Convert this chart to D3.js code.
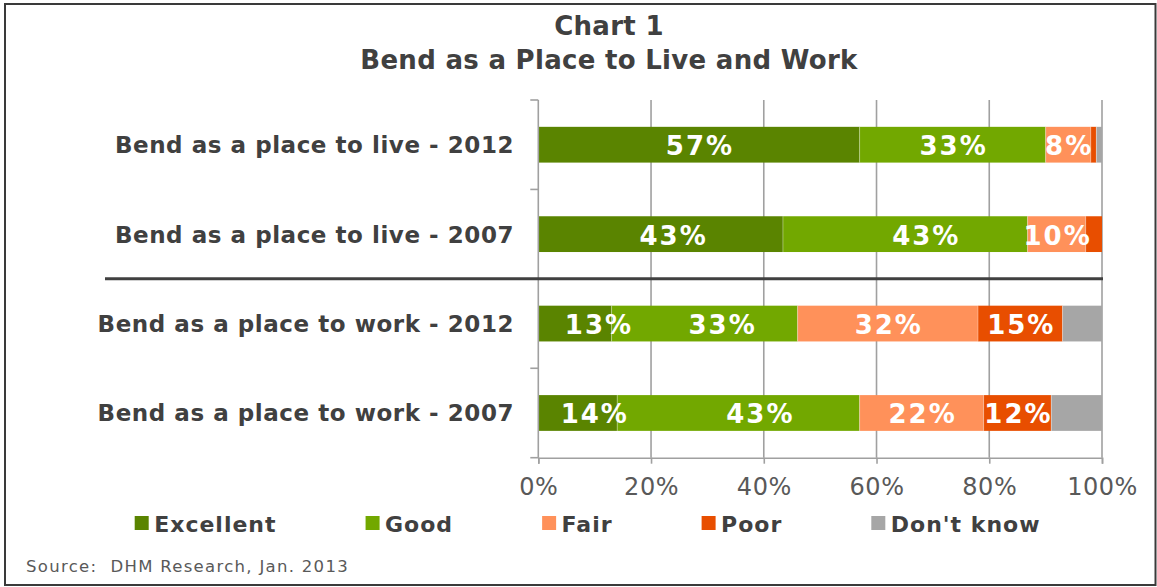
<!DOCTYPE html>
<html>
<head>
<meta charset="utf-8">
<script src="https://cdn.jsdelivr.net/npm/d3@7"></script>
<style>
  html, body { margin: 0; padding: 0; background: #fff; }
  svg { display: block; }
</style>
</head>
<body>
<svg id="chart" width="1157" height="587"></svg>
<script>
// ---- Data ----
const categories = [
  "Bend as a place to live - 2012",
  "Bend as a place to live - 2007",
  "Bend as a place to work - 2012",
  "Bend as a place to work - 2007"
];
const seriesNames = ["Excellent", "Good", "Fair", "Poor", "Don't know"];
const excellent = [57, 43.4, 13, 14];
const good      = [33, 43.4, 33, 43];
const fair      = [8, 10.3, 32, 22];
const poor      = [1, 2.9, 15, 12];
const dontKnow  = [1, 0, 7, 9];
const xTicks = [0, 20, 40, 60, 80, 100];
const titleLines = ["Chart 1", "Bend as a Place to Live and Work"];
const sourceText = "Source:  DHM Research, Jan. 2013";

// ---- Styles ----
const colors = ["#5a8400", "#72a800", "#ff915a", "#e84e00", "#a6a6a6"];
const textColor = "#404040";
// label placement tweaks (pixels) as in the original layout, by row index then series
const labelNudge = { "1|Excellent": 12, "1|Good": 20, "2|Excellent": 23, "2|Good": 17, "3|Excellent": 16, "3|Good": 21 };

const svg = d3.select("#chart");

// outer frame
svg.append("rect").attr("x", 5).attr("y", 4).attr("width", 1150.5).attr("height", 581)
  .attr("fill", "#fff").attr("stroke", "#3a3a3a").attr("stroke-width", 2);

// title
svg.selectAll("text.title").data(titleLines).join("text")
  .attr("class", "title")
  .attr("x", 609).attr("y", (d, i) => i === 0 ? 35 : 68.5)
  .attr("text-anchor", "middle")
  .attr("font-family", "DejaVu Sans").attr("font-weight", "bold")
  .attr("font-size", 26).attr("letter-spacing", 0.3).attr("fill", textColor)
  .text(d => d);

const plot = { left: 538.3, right: 1102, top: 100, bottom: 457.7 };
const x = d3.scaleLinear().domain([0, 100]).range([plot.left, plot.right]);
const y = d3.scaleBand().domain(categories).range([plot.top, plot.bottom]).paddingInner(0.6).paddingOuter(0.3);
const yOuter = d3.scaleBand().domain(categories).range([plot.top, plot.bottom]);

// gridlines
svg.append("g").selectAll("line").data(xTicks.filter(t => t > 0)).join("line")
  .attr("x1", d => x(d)).attr("x2", d => x(d))
  .attr("y1", plot.top).attr("y2", plot.bottom)
  .attr("stroke", "#a0a0a0").attr("stroke-width", 1.6);

// stacked data
const rows = categories.map((c, i) => ({
  cat: c, idx: i,
  "Excellent": excellent[i], "Good": good[i], "Fair": fair[i], "Poor": poor[i], "Don't know": dontKnow[i]
}));
const stack = d3.stack().keys(seriesNames)(rows);

const gBars = svg.append("g");
stack.forEach((layer, si) => {
  gBars.selectAll(null).data(layer).join("rect")
    .attr("x", d => x(d[0]))
    .attr("y", d => y(d.data.cat))
    .attr("width", d => Math.max(0, x(d[1]) - x(d[0])))
    .attr("height", y.bandwidth())
    .attr("fill", colors[si]);
});
// faint light edges between segments
stack.forEach((layer, si) => {
  if (si === 0) return;
  gBars.selectAll(null).data(layer.filter(d => d[1] - d[0] > 0)).join("line")
    .attr("x1", d => x(d[0])).attr("x2", d => x(d[0]))
    .attr("y1", d => y(d.data.cat)).attr("y2", d => y(d.data.cat) + y.bandwidth())
    .attr("stroke", "#ffffff").attr("stroke-opacity", 0.35).attr("stroke-width", 1);
});

// data labels
stack.forEach((layer, si) => {
  const name = seriesNames[si];
  if (name === "Don't know") return;
  gBars.selectAll(null).data(layer.filter(d => (d[1] - d[0]) >= 5)).join("text")
    .attr("x", d => (x(d[0]) + x(d[1])) / 2 + (labelNudge[d.data.idx + "|" + name] || 0) + 1)
    .attr("y", d => y(d.data.cat) + y.bandwidth() / 2 + 10.5)
    .attr("text-anchor", "middle")
    .attr("font-family", "DejaVu Sans").attr("font-weight", "bold")
    .attr("font-size", 26).attr("letter-spacing", 2)
    .attr("fill", "#fff")
    .text(d => Math.round(d[1] - d[0]) + "%");
});

// y axis line and ticks
const gy = svg.append("g");
gy.append("line").attr("x1", plot.left).attr("x2", plot.left).attr("y1", plot.top).attr("y2", plot.bottom)
  .attr("stroke", "#a0a0a0").attr("stroke-width", 1.6);
const bounds = categories.map(c => yOuter(c)).concat([plot.bottom]);
gy.selectAll("line.tk").data(bounds).join("line").attr("class", "tk")
  .attr("x1", plot.left - 8).attr("x2", plot.left)
  .attr("y1", d => d).attr("y2", d => d)
  .attr("stroke", "#a0a0a0").attr("stroke-width", 1.6);

// x axis
const xAxis = d3.axisBottom(x).tickValues(xTicks).tickFormat(d => d + "%").tickSize(6).tickPadding(14);
const gx = svg.append("g").attr("transform", `translate(0,${plot.bottom})`).call(xAxis);
gx.select(".domain").attr("stroke", "#a0a0a0").attr("stroke-width", 1.6);
gx.selectAll(".tick line").attr("stroke", "#a0a0a0").attr("stroke-width", 1.6);
gx.selectAll(".tick text").attr("font-family", "DejaVu Sans").attr("font-size", 24)
  .attr("letter-spacing", 0.5)
  .attr("fill", "#595959").attr("dy", "0.71em");

// category labels
svg.append("g").selectAll("text").data(categories).join("text")
  .attr("x", 514).attr("y", d => y(d) + y.bandwidth() / 2 + 8.5)
  .attr("text-anchor", "end")
  .attr("font-family", "DejaVu Sans").attr("font-weight", "bold")
  .attr("font-size", 23).attr("letter-spacing", 0.55).attr("fill", textColor)
  .text(d => d);

// separator between live and work groups
const sepY = yOuter(categories[2]);
svg.append("line").attr("x1", 105).attr("x2", plot.right + 1).attr("y1", sepY).attr("y2", sepY)
  .attr("stroke", "#404040").attr("stroke-width", 3);

// legend
const gL = svg.append("g");
const items = gL.selectAll("g").data(seriesNames).join("g");
items.append("rect").attr("width", 14).attr("height", 14).attr("y", 516)
  .attr("fill", (d, i) => colors[i]);
items.append("text").attr("y", 532)
  .attr("font-family", "DejaVu Sans").attr("font-weight", "bold")
  .attr("font-size", 22).attr("letter-spacing", 1).attr("fill", textColor)
  .text(d => d);
let cx = 134.7;
items.each(function () {
  const g = d3.select(this);
  const tw = g.select("text").node().getComputedTextLength();
  g.select("rect").attr("x", cx);
  g.select("text").attr("x", cx + 19.5);
  cx = cx + 19.5 + tw + 89;
});

// source
svg.append("text").attr("x", 26).attr("y", 572)
  .attr("font-family", "DejaVu Sans")
  .attr("font-size", 16.5).attr("letter-spacing", 1.3).attr("fill", "#595959")
  .style("white-space", "pre")
  .text(sourceText);
</script>
</body>
</html>
